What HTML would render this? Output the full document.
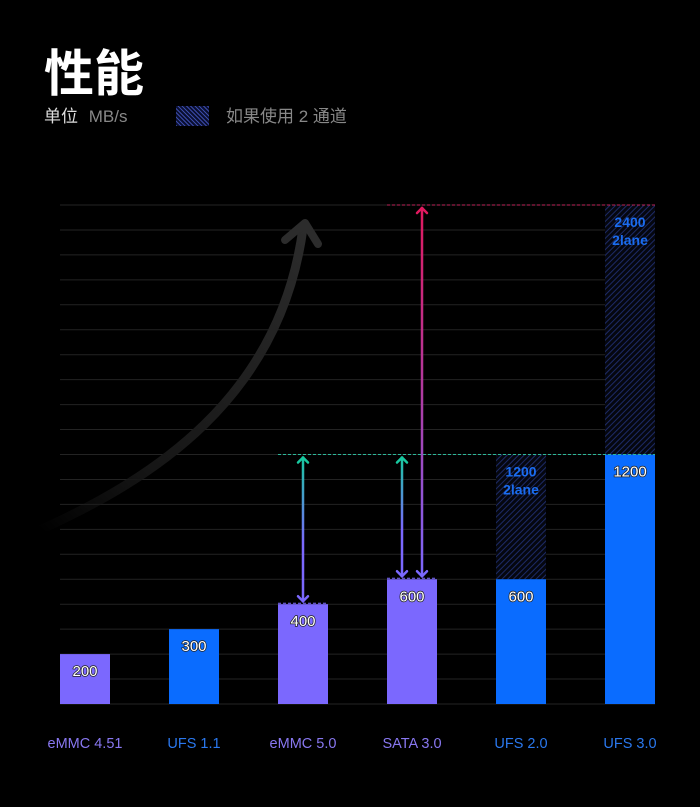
<!DOCTYPE html>
<html><head><meta charset="utf-8">
<style>
html,body{margin:0;padding:0;background:#000;}
body{width:700px;height:807px;overflow:hidden;position:relative;font-family:"Liberation Sans","Noto Sans CJK SC",sans-serif;}
.t{position:absolute;color:#fff;}
</style></head>
<body>
<div class="t" style="left:44px;top:40px;font-size:50px;font-weight:bold;line-height:60px;font-family:'Noto Sans CJK SC',sans-serif;">性能</div>
<div class="t" style="left:44px;top:105px;font-size:17px;color:#ddd;line-height:24px;">单位 <span style="color:#888;margin-left:6px;">MB/s</span></div>
<div style="position:absolute;left:176px;top:106px;width:33px;height:20px;background:repeating-linear-gradient(45deg,#3a4aa8 0 1px,#0a0f30 1px 3px);"></div>
<div class="t" style="left:226px;top:105px;font-size:17px;color:#888;line-height:24px;">如果使用 2 通道</div>
<svg id="chart" width="700" height="807" style="position:absolute;left:0;top:0;">
<defs>
<pattern id="hatch" width="4" height="4" patternUnits="userSpaceOnUse" patternTransform="rotate(45)">
<rect width="4" height="4" fill="#05070f"/><rect width="1" height="4" fill="#1d2a66"/></pattern>
<linearGradient id="arcg" x1="40" y1="530" x2="305" y2="225" gradientUnits="userSpaceOnUse">
<stop offset="0" stop-color="#1a1a1a" stop-opacity="0"/><stop offset="0.3" stop-color="#161616"/><stop offset="1" stop-color="#2c2c2c"/></linearGradient>
<linearGradient id="gTeal" x1="0" y1="0" x2="0" y2="1"><stop offset="0" stop-color="#18c9a0"/><stop offset="0.6" stop-color="#7b68fe"/></linearGradient>
<linearGradient id="gRed" x1="0" y1="0" x2="0" y2="1"><stop offset="0" stop-color="#e0195e"/><stop offset="0.5" stop-color="#b03aa0"/><stop offset="1" stop-color="#7b68fe"/></linearGradient>
</defs>
<g id="gridg"></g>
</svg>
<script>
const categories=["eMMC 4.51","UFS 1.1","eMMC 5.0","SATA 3.0","UFS 2.0","UFS 3.0"];
const values=[200,300,400,600,600,1200];
const dualValues=[null,null,null,null,1200,2400];
const kinds=["emmc","ufs","emmc","sata","ufs","ufs"];
// piecewise (non-linear) value axis: value knots -> grid index
const knotVals=[0,200,300,400,600,1200,2400];
const knotGrid=[0,2,3,4,5,10,20];
const BASE=704,STEP=24.95,X0=60,BW=50,GAP=109;
function y(v){for(let i=1;i<knotVals.length;i++){if(v<=knotVals[i]){const t=(v-knotVals[i-1])/(knotVals[i]-knotVals[i-1]);return BASE-(knotGrid[i-1]+t*(knotGrid[i]-knotGrid[i-1]))*STEP;}}return BASE-20*STEP;}
function x(i){return X0+i*GAP;}
const svg=document.getElementById('chart');
const gridg=document.getElementById('gridg');
const NS="http://www.w3.org/2000/svg";
function mk(t,a,p){const e=document.createElementNS(NS,t);for(const k in a)e.setAttribute(k,a[k]);(p||svg).appendChild(e);return e;}
for(let g=0;g<=20;g++){const l=mk('line',{x1:60,x2:655,y1:BASE-g*STEP,y2:BASE-g*STEP,stroke:'#232323','stroke-width':1},gridg);

}
const arc=mk('path',{d:'M40,530 C150,480 280,400 303,228',stroke:'url(#arcg)','stroke-width':9,fill:'none','stroke-linecap':'round'});


const ah=mk('path',{d:'M285,240 L305,223 L318,244',stroke:'#2c2c2c','stroke-width':8,fill:'none','stroke-linecap':'round','stroke-linejoin':'round'});


const col={emmc:'#7b68fe',sata:'#7b68fe',ufs:'#0a6cff'};
categories.forEach((c,i)=>{
 if(dualValues[i]!=null){const h=mk('rect',{x:x(i),y:y(dualValues[i]),width:BW,height:y(values[i])-y(dualValues[i]),fill:'url(#hatch)'});
 
 
 const t1=mk('text',{x:x(i)+BW/2,y:y(dualValues[i])+22,'text-anchor':'middle',fill:'#1a6cf0','font-size':14,'font-weight':'bold','font-family':'Liberation Sans'});t1.textContent=dualValues[i];
 
 
 const t2=mk('text',{x:x(i)+BW/2,y:y(dualValues[i])+40,'text-anchor':'middle',fill:'#1a6cf0','font-size':14,'font-weight':'bold','font-family':'Liberation Sans'});t2.textContent='2lane';
 
 }
 const r=mk('rect',{x:x(i),y:y(values[i]),width:BW,height:BASE-y(values[i]),fill:col[kinds[i]]});
 
 
 const v=mk('text',{x:x(i)+BW/2,y:y(values[i])+22,'text-anchor':'middle',fill:'#fff',stroke:'#222','stroke-width':1.5,'paint-order':'stroke','font-size':15,'font-family':'Liberation Sans'});v.textContent=values[i];
 
 
 const lb=mk('text',{x:x(i)+BW/2,y:748,'text-anchor':'middle',fill:kinds[i]=='ufs'?'#2a78ee':'#8877f0','font-size':14.5,'font-family':'Liberation Sans'});lb.textContent=c;
 
 
});
function dash(x1,x2,yy,c){const d=mk('line',{x1:x1,x2:x2,y1:yy,y2:yy,stroke:c,'stroke-width':1,'stroke-dasharray':'3,2'});

}
dash(278,655,y(1200),'#2bb89a');
dash(387,655,y(2400),'#c0245a');
dash(x(2),x(2)+BW,y(values[2])-1,'#7b68fe');
dash(x(3),x(3)+BW,y(values[3])-1,'#7b68fe');
function arrow(cx,top,bot,grad,topCol,botCol){
 const l=mk('line',{x1:cx,x2:cx+0.01,y1:top+2,y2:bot-2,stroke:grad,'stroke-width':2.5});
 
 
 mk('path',{d:`M${cx-5},${top+8} L${cx},${top+3} L${cx+5},${top+8}`,stroke:topCol,'stroke-width':2.5,fill:'none','stroke-linecap':'round'});
 if(botCol)mk('path',{d:`M${cx-5},${bot-8} L${cx},${bot-3} L${cx+5},${bot-8}`,stroke:botCol,'stroke-width':2.5,fill:'none','stroke-linecap':'round'});
}
arrow(303,y(1200),y(values[2]),'url(#gTeal)','#18c9a0','#7b68fe');
arrow(402,y(1200),y(values[3]),'url(#gTeal)','#18c9a0','#7b68fe');
arrow(422,y(2400),y(values[3]),'url(#gRed)','#e0195e','#7b68fe');
</script>
</body></html>
